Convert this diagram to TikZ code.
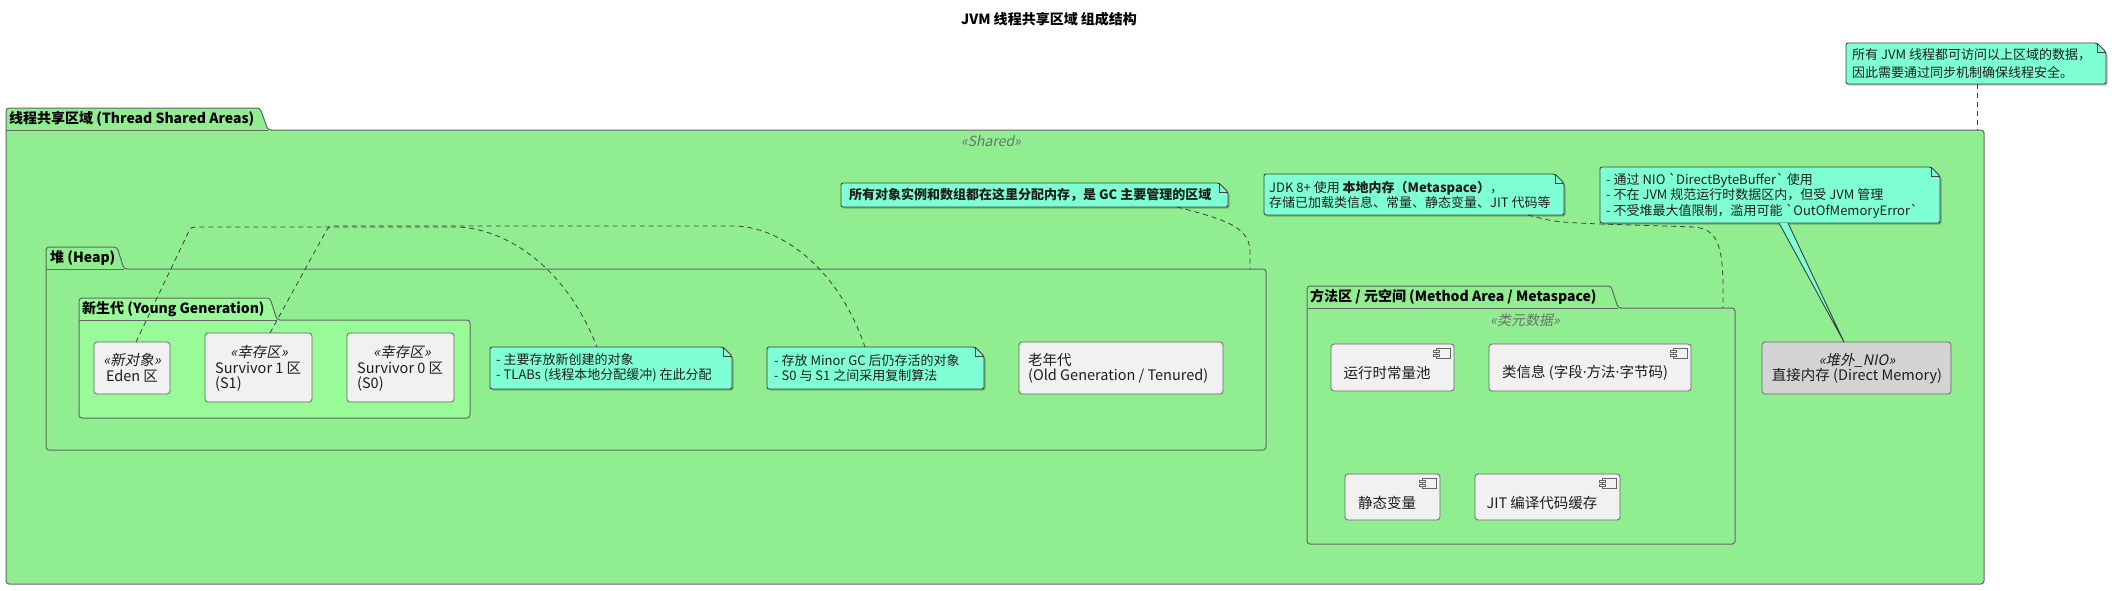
\documentclass[tikz,border=0pt]{standalone}
\usepackage{fontspec}
\setmainfont{Noto Sans CJK SC}[Ligatures=TeXOff,ItalicFont={Noto Sans CJK SC},ItalicFeatures={FakeSlant=0.2}]
\newfontfamily\latinfont{Noto Sans}
\usetikzlibrary{calc}
\definecolor{pkgfill}{HTML}{90EE90}
\definecolor{youngfill}{HTML}{98FB98}
\definecolor{notefill}{HTML}{7FFFD4}
\definecolor{boxfill}{HTML}{F1F1F1}
\definecolor{dmfill}{HTML}{D3D3D3}
\definecolor{edgec}{HTML}{666666}
\definecolor{noteedge}{HTML}{404040}
\definecolor{stereoc}{HTML}{707070}
\definecolor{txtc}{HTML}{1E1E1E}
\newcommand\mdot{{\latinfont\char"00B7}}
\newcommand\notebox[5]{%
  \fill[black, opacity=0.25, rounded corners=2] (#2+1.5,#3+1.5) -- (#4-9+1.5,#3+1.5) -- (#4+1.5,#3+9+1.5) -- (#4+1.5,#5+1.5) -- (#2+1.5,#5+1.5) -- cycle;
  \draw[noteline, fill=notefill, rounded corners=2] (#2,#3) -- (#4-9,#3) -- (#4,#3+9) -- (#4,#5) -- (#2,#5) -- cycle;
  \draw[noteline] (#4-9,#3) -- (#4-9,#3+9) -- (#4,#3+9);
  \coordinate (#1) at ({(#2+#4)/2},{(#3+#5)/2});
}
\newcommand\compicon[1]{%
  \draw[draw=edgec, fill=boxfill, line width=0.6] ([shift={(-18,5)}]#1.north east) rectangle ([shift={(-4,15)}]#1.north east);
  \draw[draw=edgec, fill=boxfill, line width=0.6] ([shift={(-21,7)}]#1.north east) rectangle ([shift={(-15,9)}]#1.north east);
  \draw[draw=edgec, fill=boxfill, line width=0.6] ([shift={(-21,11)}]#1.north east) rectangle ([shift={(-15,13)}]#1.north east);
}
\begin{document}
\begin{tikzpicture}[x=1pt,y=-1pt,
  pkgline/.style={draw=edgec, line width=1},
  tablabel/.style={font=\bfseries\fontsize{14}{16}\selectfont, anchor=west, inner sep=0, text=black},
  boxnode/.style={draw=edgec, fill=boxfill, rounded corners=3, line width=0.8, inner sep=0},
  txt/.style={font=\fontsize{14.5}{16}\selectfont, inner sep=0, text=txtc},
  ltxt/.style={txt, anchor=west},
  stxt/.style={font=\itshape\fontsize{14.5}{16}\selectfont, inner sep=0, text=txtc},
  stereolabel/.style={font=\itshape\fontsize{14}{16}\selectfont, inner sep=0, text=stereoc},
  noteline/.style={draw=noteedge, line width=0.9},
  notetxt/.style={font=\fontsize{13}{15.5}\selectfont, align=left, anchor=west, inner sep=0, text=txtc},
  link/.style={draw=noteedge, dash pattern=on 5pt off 4pt, line width=0.8}
]
\useasboundingbox (0,0) rectangle (2112,590);

% title
\node[font=\bfseries\fontsize{14}{16}\selectfont, inner sep=0] (title) at (1049,19) {JVM 线程共享区域 组成结构};

% outer package
\path[pkgline, fill=pkgfill, rounded corners=3] (6,108) -- (260,108) -- (268,130) -- (1984,130) -- (1984,584) -- (6,584) -- cycle;
\draw[pkgline] (6,130) -- (268,130);
\node[tablabel] (outerlbl) at (9,119) {线程共享区域 (Thread Shared Areas)};
\node[stereolabel] (outerst) at (991,141) {«Shared»};

% heap package
\path[pkgline, fill=pkgfill, rounded corners=3] (46,247) -- (117,247) -- (124,269) -- (1266,269) -- (1266,450) -- (46,450) -- cycle;
\draw[pkgline] (46,269) -- (124,269);
\node[tablabel] (heaplbl) at (50,258) {堆 (Heap)};

% young generation package
\path[pkgline, fill=youngfill, rounded corners=3] (79,298) -- (270,298) -- (277,320) -- (470,320) -- (470,418) -- (79,418) -- cycle;
\draw[pkgline] (79,320) -- (277,320);
\node[tablabel] (younglbl) at (82,309) {新生代 (Young Generation)};

% method area package
\path[pkgline, fill=pkgfill, rounded corners=3] (1307,286) -- (1611,286) -- (1618,308) -- (1735,308) -- (1735,544) -- (1307,544) -- cycle;
\draw[pkgline] (1307,308) -- (1618,308);
\node[tablabel] (methodlbl) at (1310,297) {方法区 / 元空间 (Method Area / Metaspace)};
\node[stereolabel] (methodst) at (1525,320) {«类元数据»};

% young generation boxes
\node[boxnode, minimum width=76, minimum height=52] (eden) at (132,368) {};
\node[stxt] (edenS) at (132,360) {«新对象»};
\node[txt] (edenT) at (132,376) {Eden 区};

\node[boxnode, minimum width=107, minimum height=69] (s1) at (258.5,367.5) {};
\node[stxt] (s1S) at (259,352) {«幸存区»};
\node[ltxt] (s1T) at (215,368) {Survivor 1 区};
\node[ltxt] (s1U) at (215,384) {(S1)};

\node[boxnode, minimum width=107, minimum height=69] (s0) at (400.5,367.5) {};
\node[stxt] (s0S) at (402,352) {«幸存区»};
\node[ltxt] (s0T) at (357,368) {Survivor 0 区};
\node[ltxt] (s0U) at (357,384) {(S0)};

% old generation
\node[boxnode, minimum width=204, minimum height=52] (old) at (1121,368) {};
\node[ltxt] (oldT) at (1028,360) {老年代};
\node[ltxt] (oldU) at (1028,376) {(Old Generation / Tenured)};

% method area components
\node[boxnode, minimum width=123, minimum height=47] (rcp) at (1392.5,367.5) {};
\compicon{rcp}
\node[txt] (rcpT) at (1387,373) {运行时常量池};
\node[boxnode, minimum width=202, minimum height=47] (cls) at (1590,367.5) {};
\compicon{cls}
\node[txt] (clsT) at (1585,373) {类信息 (字段\mdot 方法\mdot 字节码)};
\node[boxnode, minimum width=95, minimum height=46] (stv) at (1392.5,497) {};
\compicon{stv}
\node[txt] (stvT) at (1387,503) {静态变量};
\node[boxnode, minimum width=145, minimum height=46] (jit) at (1547.5,497) {};
\compicon{jit}
\node[txt] (jitT) at (1542,503) {JIT 编译代码缓存};

% direct memory
\node[boxnode, fill=dmfill, minimum width=189, minimum height=52] (dm) at (1856.5,368) {};
\node[stxt] (dmS) at (1857,360) {«堆外\_NIO»};
\node[txt] (dmT) at (1857,376) {直接内存 (Direct Memory)};

% notes
\notebox{ntop}{1846}{43}{2106}{84}
\node[notetxt, font=\fontsize{13}{18}\selectfont] (ntopT) at (1852,63.5) {所有 JVM 线程都可访问以上区域的数据，\\因此需要通过同步机制确保线程安全。};

\notebox{nheap}{841}{183}{1228}{207}
\node[notetxt, font=\bfseries\fontsize{13}{15.5}\selectfont] (nheapT) at (849,195) {所有对象实例和数组都在这里分配内存，是 GC 主要管理的区域};

\notebox{neden}{490}{347}{732}{389}
\node[notetxt] (nedenT) at (496,368) {- 主要存放新创建的对象\\- TLABs (线程本地分配缓冲) 在此分配};

\notebox{nsurv}{767}{347}{984}{389}
\node[notetxt] (nsurvT) at (774,368) {- 存放 Minor GC 后仍存活的对象\\- S0 与 S1 之间采用复制算法};

\notebox{njdk}{1264}{174}{1564}{215}
\node[notetxt] (njdkT) at (1269,195) {JDK 8+ 使用 \textbf{本地内存（Metaspace）}，\\存储已加载类信息、常量、静态变量、JIT 代码等};

\notebox{ndm}{1600}{167}{1940}{223}
\node[notetxt] (ndmT) at (1606,195.5) {- 通过 NIO `DirectByteBuffer` 使用\\- 不在 JVM 规范运行时数据区内，但受 JVM 管理\\- 不受堆最大值限制，滥用可能 `OutOfMemoryError`};

% connectors
\coordinate (ntopB) at (1977,84);
\coordinate (outerTop) at (1977,130);
\draw[link] (ntopB) -- (outerTop);

\coordinate (nheapB) at (1177,207);
\coordinate (heapTop) at (1250,269);
\draw[link] (nheapB) .. controls (1228,220) and (1250,228) .. (1250,252) -- (heapTop);

\coordinate (edenTop) at (136,342);
\coordinate (nedenTop) at (597,347);
\draw[link] (edenTop) -- (188,233) .. controls (191,227) .. (200,227) -- (458,227) .. controls (505,229) and (565,265) .. (nedenTop);

\coordinate (s1Top) at (270,333);
\coordinate (nsurvTop) at (865,347);
\draw[link] (s1Top) -- (325,233) .. controls (329,226) .. (338,226) -- (736,226) .. controls (782,228) and (838,268) .. (nsurvTop);

\coordinate (njdkB) at (1528,215);
\coordinate (methodTop) at (1723,308);
\draw[link] (njdkB) .. controls (1555,222) .. (1600,224) -- (1695,227) .. controls (1716,230) and (1723,242) .. (1723,290) -- (methodTop);

\coordinate (wedgeA) at (1779,223);
\coordinate (wedgeB) at (1788,223);
\coordinate (dmTop) at (1844,342);
\draw[noteline, fill=notefill, line join=round] (wedgeA) -- (dmTop) -- (wedgeB);
\end{tikzpicture}
\end{document}
